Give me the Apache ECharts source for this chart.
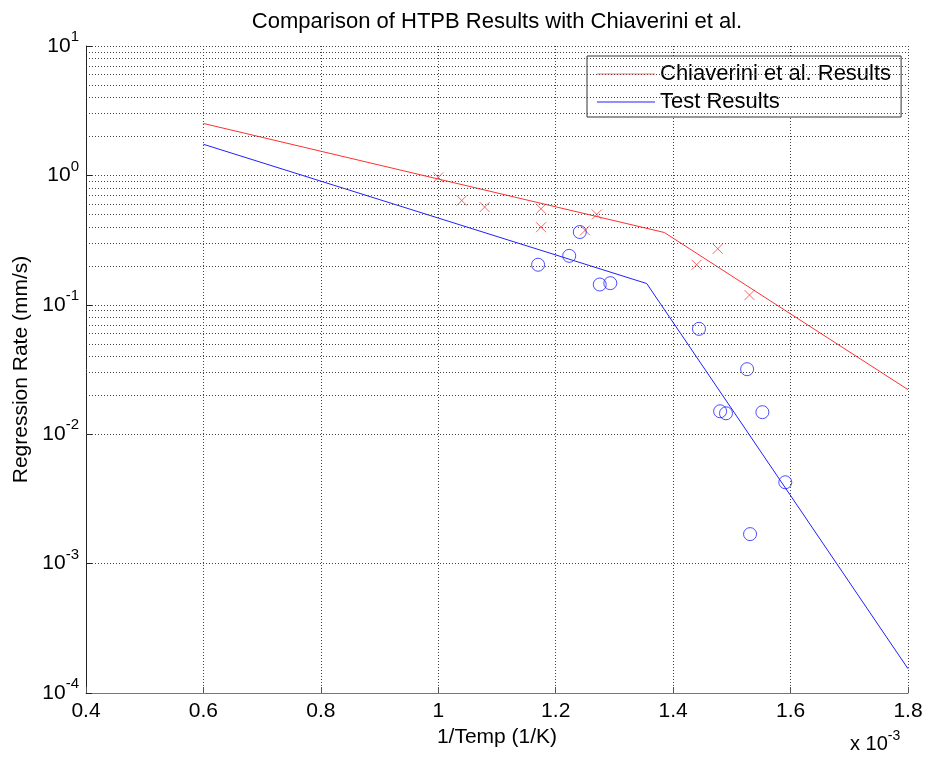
<!DOCTYPE html>
<html><head><meta charset="utf-8">
<script src="https://cdn.jsdelivr.net/npm/echarts@6/dist/echarts.min.js"></script>
<style>html,body{margin:0;padding:0;background:#fff}#c{width:926px;height:757px}</style>
</head><body><div id="c"></div>
<script>
// x values in units of 1e-3 (1/K)
const chiaveriniLineX = [0.6, 1.385, 1.8];
const chiaveriniLineY = [2.52, 0.362, 0.0221];
const testLineX = [0.6, 1.355, 1.8];
const testLineY = [1.74, 0.146, 0.000154];
const chiaveriniPtsX = [1.0, 1.04, 1.079, 1.175, 1.175, 1.27, 1.25, 1.44, 1.476, 1.53];
const chiaveriniPtsY = [0.966, 0.64, 0.569, 0.552, 0.398, 0.499, 0.376, 0.204, 0.271, 0.119];
const testPtsX = [1.241, 1.223, 1.17, 1.275, 1.293, 1.444, 1.526, 1.48, 1.49, 1.552, 1.591, 1.531];
const testPtsY = [0.365, 0.239, 0.204, 0.1435, 0.147, 0.0652, 0.0318, 0.01503, 0.0145, 0.0148, 0.00425, 0.00169];
const xTicks = [0.4, 0.6, 0.8, 1.0, 1.2, 1.4, 1.6, 1.8];
const yDecades = [-4, -3, -2, -1, 0, 1];

const zip = (a, b) => a.map((v, i) => [v, b[i]]);
const FONT = 'Liberation Sans, Arial, Helvetica, sans-serif';
const minorY = [];
for (let e = -4; e < 1; e++) for (let m = 2; m <= 9; m++) minorY.push({ yAxis: m * Math.pow(10, e) });
const gridStyle = { color: '#444', width: 1, type: [1, 2] };

const chart = echarts.init(document.getElementById('c'), null, { renderer: 'canvas' });
chart.setOption({
  backgroundColor: '#fff',
  animation: false,
  textStyle: { fontFamily: FONT },
  title: {
    text: 'Comparison of HTPB Results with Chiaverini et al.',
    left: 497, top: 11, textAlign: 'center', padding: 0,
    textStyle: { fontSize: 22, fontWeight: 'normal', color: '#000', fontFamily: FONT }
  },
  legend: {
    data: [
      { name: 'Chiaverini et al. Results', icon: 'rect' },
      { name: 'Test Results', icon: 'rect' }
    ],
    orient: 'vertical', left: 587, top: 56,
    backgroundColor: '#fff', borderColor: '#333', borderWidth: 1,
    padding: [7, 10, 4, 10], itemGap: 6, itemWidth: 58, itemHeight: 1,
    textStyle: { fontSize: 22, lineHeight: 22, color: '#000', fontFamily: FONT }
  },
  grid: { left: 86, right: 18, top: 46, bottom: 64, containLabel: false },
  xAxis: {
    type: 'value', min: 0.4, max: 1.8, interval: 0.2,
    name: '1/Temp (1/K)', nameLocation: 'middle', nameGap: 28,
    nameTextStyle: { fontSize: 21, color: '#000', fontFamily: FONT },
    axisLine: { show: true, onZero: false, lineStyle: { color: '#777', width: 1 } },
    axisTick: { show: true, inside: true, length: 6, lineStyle: { color: '#555' } },
    axisLabel: { fontSize: 21, color: '#000', margin: 8, formatter: v => String(Math.round(v * 10) / 10) },
    splitLine: { show: true, lineStyle: gridStyle }
  },
  yAxis: {
    type: 'log', logBase: 10, min: 0.0001, max: 10,
    name: 'Regression Rate (mm/s)', nameLocation: 'middle', nameGap: 51,
    nameTextStyle: { fontSize: 21, color: '#000', fontFamily: FONT },
    axisLine: { show: true, lineStyle: { color: '#222', width: 1 } },
    axisTick: { show: true, inside: true, length: 6, lineStyle: { color: '#222' } },
    axisLabel: {
      margin: 7, color: '#000',
      formatter: v => '{b|10}{s|' + Math.round(Math.log10(v)) + '}',
      rich: {
        b: { fontSize: 21, color: '#000', fontFamily: FONT },
        s: { fontSize: 15, color: '#000', fontFamily: FONT, padding: [0, 0, 18, 0] }
      }
    },
    splitLine: { show: true, lineStyle: gridStyle }
  },
  series: [
    {
      name: 'grid-minor', type: 'line', data: [], silent: true,
      markLine: { silent: true, symbol: 'none', label: { show: false }, lineStyle: gridStyle, data: minorY, animation: false }
    },
    {
      name: 'Chiaverini et al. Results', type: 'line', data: zip(chiaveriniLineX, chiaveriniLineY),
      symbol: 'none', showSymbol: false, lineStyle: { color: '#ff3030', width: 1 }, itemStyle: { color: '#ff7070' }
    },
    {
      name: 'Test Results', type: 'line', data: zip(testLineX, testLineY),
      symbol: 'none', showSymbol: false, lineStyle: { color: '#2020ff', width: 1 }, itemStyle: { color: '#2020ff' }
    },
    {
      name: 'Chiaverini points', type: 'scatter', data: zip(chiaveriniPtsX, chiaveriniPtsY),
      symbol: 'path://M0,0L10,10M10,0L0,10', symbolSize: 10,
      itemStyle: { color: 'transparent', borderColor: '#ff4040', borderWidth: 1 }
    },
    {
      name: 'Test points', type: 'scatter', data: zip(testPtsX, testPtsY),
      symbol: 'circle', symbolSize: 13,
      itemStyle: { color: 'transparent', borderColor: '#2020ff', borderWidth: 1 }
    }
  ],
  graphic: [{
    type: 'text', left: 850, top: 729,
    style: {
      text: '{b|x 10}{s|-3}', fontFamily: FONT,
      rich: {
        b: { fontSize: 20, fill: '#000', fontFamily: FONT },
        s: { fontSize: 14, fill: '#000', fontFamily: FONT, padding: [0, 0, 16, 0] }
      }
    }
  }]
});
</script></body></html>
